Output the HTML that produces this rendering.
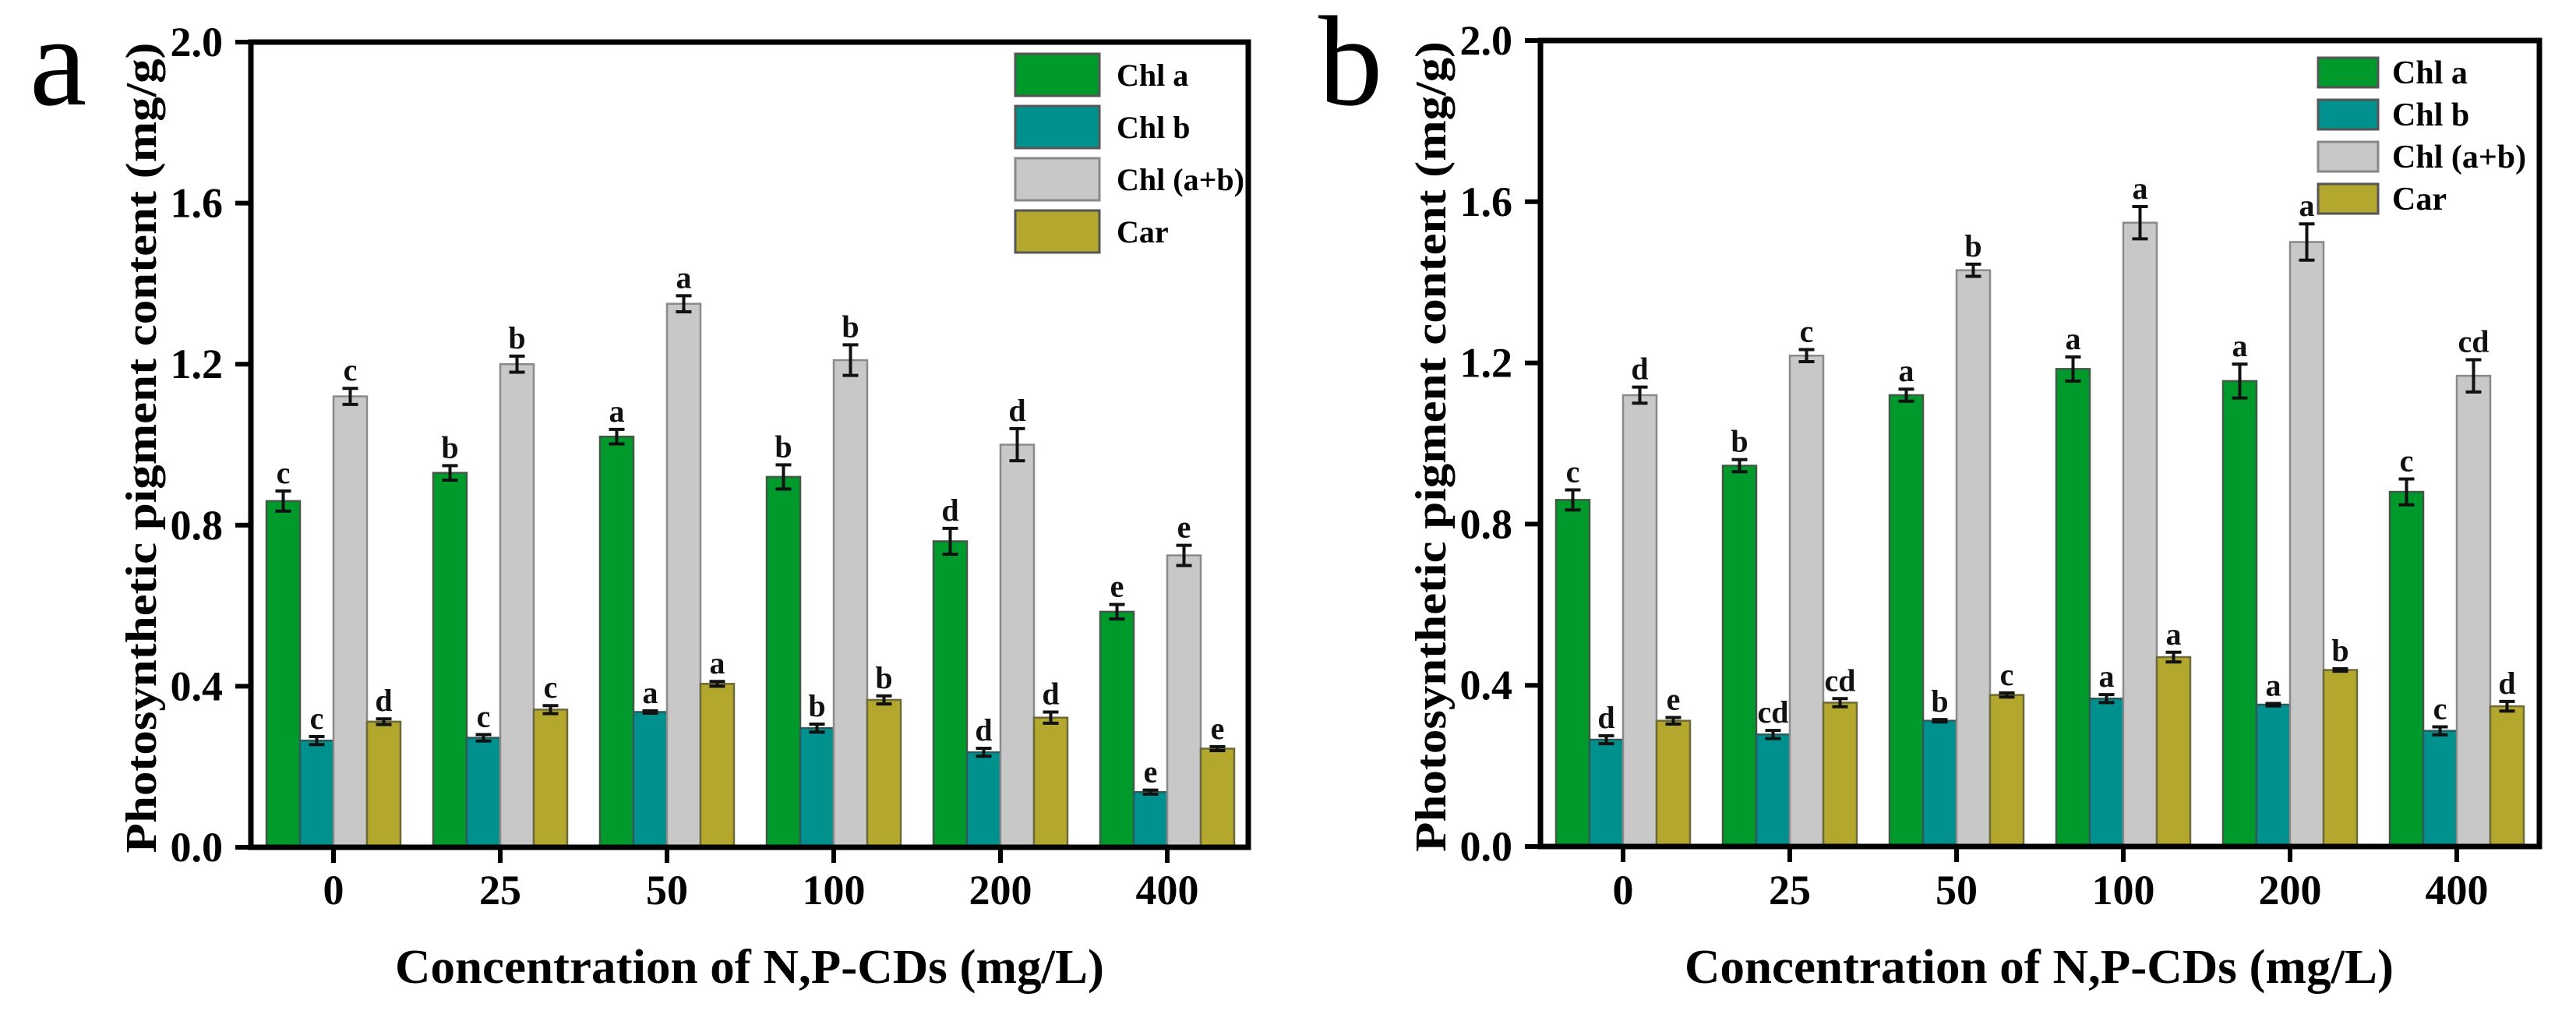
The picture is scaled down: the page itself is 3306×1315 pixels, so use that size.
<!DOCTYPE html>
<html><head><meta charset="utf-8"><style>
html,body{margin:0;padding:0;background:#fff;}
svg{display:block;font-family:"Liberation Serif",serif;}
</style></head><body>
<svg id="fig" width="3306" height="1315" viewBox="0 0 3306 1315"></svg>
<script>
const categories = ["0","25","50","100","200","400"];
const yTicks = [0,0.4,0.8,1.2,1.6,2.0];
const yTickLabels = ["0.0","0.4","0.8","1.2","1.6","2.0"];
const seriesNames = ["Chl a","Chl b","Chl (a+b)","Car"];
// panel a
const aChlA = [0.86,0.93,1.02,0.92,0.76,0.585];
const aChlAErr = [0.025,0.018,0.018,0.03,0.032,0.018];
const aChlB = [0.265,0.272,0.336,0.296,0.236,0.137];
const aChlBErr = [0.01,0.008,0.003,0.01,0.01,0.005];
const aTotal = [1.12,1.2,1.35,1.21,1.0,0.725];
const aTotalErr = [0.02,0.02,0.02,0.038,0.04,0.025];
const aCar = [0.312,0.342,0.406,0.366,0.322,0.245];
const aCarErr = [0.007,0.01,0.006,0.01,0.014,0.005];
const aLetA = ["c","b","a","b","d","e"];
const aLetB = ["c","c","a","b","d","e"];
const aLetT = ["c","b","a","b","d","e"];
const aLetC = ["d","c","a","b","d","e"];
// panel b
const bChlA = [0.86,0.945,1.12,1.185,1.155,0.88];
const bChlAErr = [0.025,0.015,0.015,0.03,0.042,0.032];
const bChlB = [0.265,0.278,0.312,0.367,0.352,0.287];
const bChlBErr = [0.01,0.01,0.003,0.01,0.003,0.01];
const bTotal = [1.12,1.218,1.43,1.548,1.5,1.168];
const bTotalErr = [0.02,0.015,0.015,0.04,0.045,0.04];
const bCar = [0.312,0.357,0.376,0.47,0.438,0.348];
const bCarErr = [0.008,0.01,0.005,0.012,0.003,0.012];
const bLetA = ["c","b","a","a","a","c"];
const bLetB = ["d","cd","b","a","a","c"];
const bLetT = ["d","c","b","a","a","cd"];
const bLetC = ["e","cd","c","a","b","d"];

const NS="http://www.w3.org/2000/svg";
const svg=document.getElementById('fig');
const fills=["#00992b","#00918f","#c8c8c8","#b3a72e"];
const strokes=["#3f5a44","#2f5a5a","#8a8a8a","#6d6a3a"];
function mk(tag,attrs,parent){const e=document.createElementNS(NS,tag);for(const k in attrs)e.setAttribute(k,attrs[k]);(parent||svg).appendChild(e);return e;}

function panel(cfg){
  const g=mk('g',{});
  
  
  const L=cfg.left,R=cfg.right,T=cfg.top,B=cfg.bottom;
  const yScale=v=>B-(v/2.0)*(B-T);
  const xTick=i=>L+106+214*i;
  const bw=43;
  const series=[cfg.s[0],cfg.s[1],cfg.s[2],cfg.s[3]];
  const errs=cfg.e, lets=cfg.l;
  for(let s=0;s<4;s++){
    for(let i=0;i<categories.length;i++){
      const x=xTick(i)+(s-2)*bw;
      const y=yScale(series[s][i]);
      const r=mk('rect',{x:x,y:y,width:bw,height:B-y,fill:fills[s],stroke:strokes[s],'stroke-width':2.5},g);
      
      
      const cx=x+bw/2, yt=yScale(series[s][i]+errs[s][i]), yb=yScale(series[s][i]-errs[s][i]);
      const eb=mk('path',{d:`M${cx} ${yt}V${yb}M${cx-10} ${yt}H${cx+10}M${cx-10} ${yb}H${cx+10}`,stroke:'#111','stroke-width':4,fill:'none'},g);
      
      
      const t=mk('text',{x:cx,y:yt-10,'text-anchor':'middle','font-size':40,'font-weight':'bold',fill:'#111'},g);
      t.textContent=lets[s][i];
      
      
    }
  }
  const fr=mk('rect',{x:L,y:T,width:R-L,height:B-T,fill:'none',stroke:'#000','stroke-width':7},g);
  
  
  for(let k=0;k<yTicks.length;k++){
    const y=yScale(yTicks[k]);
    mk('line',{x1:L-20,x2:L,y1:y,y2:y,stroke:'#000','stroke-width':6},g);
    const t=mk('text',{x:L-36,y:y+18,'text-anchor':'end','font-size':54,'font-weight':'bold'},g);
    t.textContent=yTickLabels[k];
    
    
  }
  for(let i=0;i<categories.length;i++){
    const x=xTick(i);
    mk('line',{x1:x,x2:x,y1:B,y2:B+20,stroke:'#000','stroke-width':6},g);
    const t=mk('text',{x:x,y:1160,'text-anchor':'middle','font-size':54,'font-weight':'bold'},g);
    t.textContent=categories[i];
    
    
  }
  const yt=mk('text',{x:0,y:0,transform:`translate(${L-122},${(T+B)/2+4}) rotate(-90)`,'text-anchor':'middle','font-size':56,'font-weight':'bold',textLength:1040,lengthAdjust:'spacingAndGlyphs'},g);
  yt.textContent="Photosynthetic pigment content (mg/g)";
  
  
  const xt=mk('text',{x:L+640,y:1261,'text-anchor':'middle','font-size':62,'font-weight':'bold',textLength:910,lengthAdjust:'spacingAndGlyphs'},g);
  xt.textContent="Concentration of N,P-CDs (mg/L)";
  
  
  const pl=mk('text',{x:cfg.lx,y:134,'font-size':165},g);
  pl.textContent=cfg.id;
  
  
  const lg=cfg.leg;
  for(let s=0;s<4;s++){
    const y=lg.y+s*lg.dy;
    const r=mk('rect',{x:lg.x,y:y,width:lg.w,height:lg.h,fill:fills[s],stroke:s==2?'#888':'#555','stroke-width':3},g);
    
    
    const t=mk('text',{x:lg.x+lg.w+lg.gap,y:y+lg.h/2+14,'font-size':lg.fs,'font-weight':'bold'},g);
    t.textContent=seriesNames[s];
    
    
  }
}
panel({id:'a',left:322,right:1602,top:54,bottom:1087,lx:38,
  s:[aChlA,aChlB,aTotal,aCar],e:[aChlAErr,aChlBErr,aTotalErr,aCarErr],l:[aLetA,aLetB,aLetT,aLetC],
  leg:{x:1303,y:69,w:108,h:54,dy:67,gap:22,fs:40}});
panel({id:'b',left:1977,right:3259,top:52,bottom:1086,lx:1692,
  s:[bChlA,bChlB,bTotal,bCar],e:[bChlAErr,bChlBErr,bTotalErr,bCarErr],l:[bLetA,bLetB,bLetT,bLetC],
  leg:{x:2975,y:74,w:77,h:38,dy:54,gap:18,fs:42}});
</script>
</body></html>
